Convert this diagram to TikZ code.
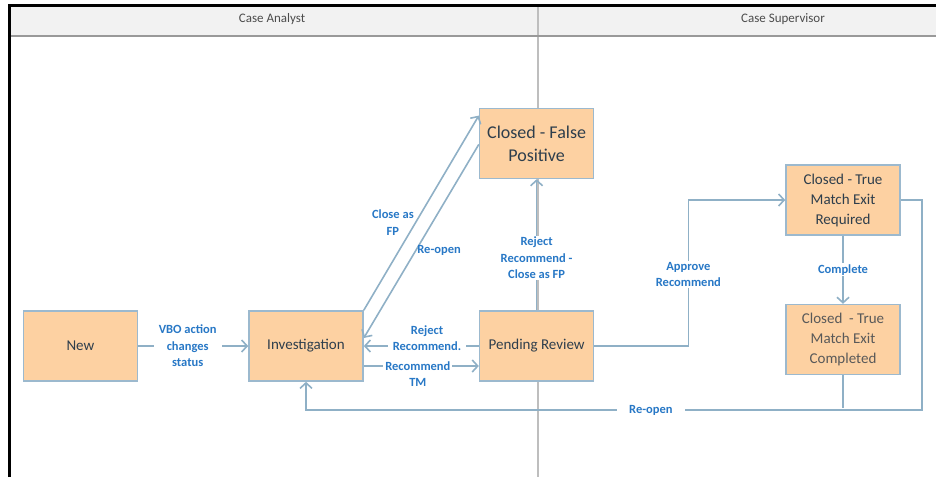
\documentclass[tikz,border=0pt]{standalone}
\usepackage{fontspec}
\setmainfont{Carlito}
\usepackage{tikz}
\usetikzlibrary{arrows.meta, positioning}
\definecolor{boxorange}{HTML}{FDD1A2}
\definecolor{boxedge}{HTML}{9CB9CE}
\definecolor{flowblue}{HTML}{8FB0C6}
\definecolor{labelblue}{HTML}{2878C6}
\definecolor{boxtext}{HTML}{2E3E4C}
\definecolor{lanegray}{HTML}{BEBEBE}
\definecolor{headgray}{HTML}{F2F2F2}

\begin{document}
\begin{tikzpicture}[
    x=1pt, y=-1pt,
    state/.style={draw=boxedge, fill=boxorange, line width=1.6pt,
                  minimum width=114pt, minimum height=70pt, inner sep=2pt,
                  align=center, text=boxtext, font=\fontsize{15}{20}\selectfont},
    flow/.style={draw=flowblue, line width=1.6pt,
                 -{Straight Barb[length=5.5pt,width=12pt]}},
    lbl/.style={font=\fontsize{12.5}{16.5}\selectfont\bfseries, text=labelblue,
                fill=white, align=center, inner xsep=5pt, inner ysep=1pt},
    lane/.style={font=\fontsize{13}{15}\selectfont, text=black!70}
  ]
    \useasboundingbox (0,0) rectangle (936,477);

    % swimlanes
    \fill[headgray] (9,5) rectangle (936,36);
    \draw[lanegray, line width=1.3pt] (538,5) -- (538,477);
    \draw[black!40, line width=1.6pt] (10,36) -- (936,36);
    \draw[black, line width=3pt] (9,477) -- (9,5) -- (936,5);
    \node[lane] (analyst) at (272,19) {Case Analyst};
    \node[lane] (supervisor) at (783,19) {Case Supervisor};

    % Case Analyst
    \node[state] (inv) at (306,346) {Investigation};
    \node[state, left=110pt of inv] (new) {New};
    \node[state, right=115pt of inv] (pend) {Pending Review};
    \node[state, above=131pt of pend, font=\fontsize{18}{23}\selectfont]
      (fp) {Closed - False\\Positive};

    % Case Supervisor
    \node[state] (tmreq) at (843,200) {Closed - True\\Match Exit\\Required};
    \node[state, below=68pt of tmreq, text=black!65]
      (tmdone) {Closed\ \ - True\\Match Exit\\Completed};

    % Arrows
    \draw[flow] (new) -- node[lbl, pos=0.45] {VBO action\\changes\\status} (inv);
    \draw[flow] (inv.north east) --
      node[lbl, pos=0.45, left=0pt, fill=none, inner xsep=1pt] {Close as\\FP}
      ([yshift=-8pt]fp.north west);
    \draw[flow] ([yshift=-1pt]fp.west) --
      node[lbl, pos=0.55, right=0pt, fill=none, inner xsep=1pt] {Re-open}
      ([yshift=8pt]inv.east);
    \draw[flow] (pend) --
      node[lbl, pos=0.45, yshift=8pt] {Reject\\Recommend.} (inv);
    \draw[flow] ([yshift=-20pt]inv.east) --
      node[lbl, pos=0.47, yshift=-8pt, inner xsep=2pt] {Recommend\\TM}
      ([yshift=-20pt]pend.west);
    \draw[flow] (pend) --
      node[lbl, pos=0.4, inner xsep=1pt] {Reject\\Recommend -\\Close as FP} (fp);
    \draw[flow] (pend.east) -- ++(94,0) |-
      node[lbl, pos=0.245, inner xsep=1pt] {Approve\\Recommend} (tmreq.west);
    \draw[flow] (tmreq) -- node[lbl] {Complete} (tmdone);
    \draw[flow] (tmreq.east) -- ++(21,0) -- ++(0,210) -|
      node[lbl, pos=0.22, inner xsep=12pt] {Re-open} (inv.south);
    \draw[flowblue, line width=1.6pt] (tmdone.south) -- ++(0,33);
  \end{tikzpicture}
\end{document}
